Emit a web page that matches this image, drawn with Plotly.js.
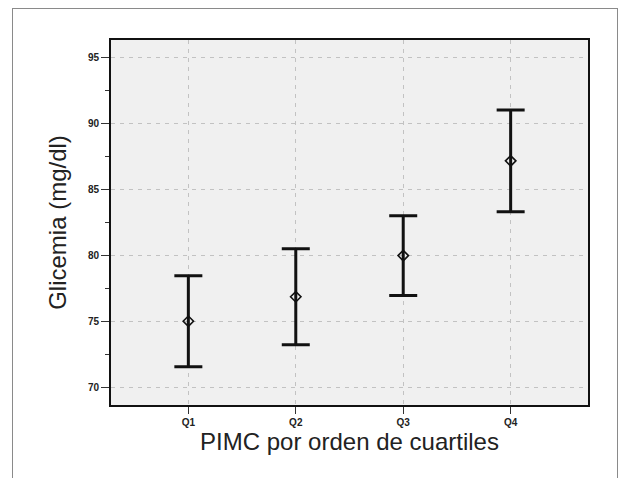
<!DOCTYPE html>
<html>
<head>
<meta charset="utf-8">
<script src="https://cdn.plot.ly/plotly-3.0.1.min.js"></script>
<style>
  html, body { margin: 0; padding: 0; background: #ffffff; }
  #frame { position: absolute; left: 12px; top: 8px; width: 606px; height: 480px; border: 1.5px solid #8a8a8a; box-sizing: border-box; }
  #chart { position: absolute; left: 0; top: 0; width: 621px; height: 478px; }
</style>
</head>
<body>
<div id="frame"></div>
<div id="chart"></div>
<script>
// Data
const categories = ["Q1", "Q2", "Q3", "Q4"];
const means = [75.05, 76.9, 80.02, 87.2];
const upper = [78.5, 80.55, 83.05, 91.05];
const lower = [71.6, 73.27, 76.99, 83.35];
const yTickVals = [70, 75, 80, 85, 90, 95];
const yMinorTickVals = [72.5, 77.5, 82.5, 87.5, 92.5];

const errPlus = means.map((m, i) => upper[i] - m);
const errMinus = means.map((m, i) => m - lower[i]);

const trace = {
  type: "scatter",
  mode: "markers",
  x: categories,
  y: means,
  marker: { symbol: "diamond-open", size: 8, color: "#111111", line: { width: 1.6, color: "#111111" } },
  error_y: {
    type: "data",
    symmetric: false,
    array: errPlus,
    arrayminus: errMinus,
    color: "#111111",
    thickness: 3,
    width: 14
  },
  hoverinfo: "skip",
  showlegend: false
};

const layout = {
  width: 621,
  height: 478,
  margin: { l: 111, r: 33, t: 40, b: 73 },
  paper_bgcolor: "rgba(0,0,0,0)",
  plot_bgcolor: "#f0f0f0",
  font: { family: "Liberation Sans, Arial, sans-serif", color: "#1a1a1a" },
  xaxis: {
    type: "category",
    range: [-0.72, 3.72],
    showline: true, mirror: true, linecolor: "#111", linewidth: 2,
    ticks: "outside", ticklen: 7, tickwidth: 1, tickcolor: "#333",
    showgrid: true, gridcolor: "#c2c2c2", griddash: "4px,5px", gridwidth: 1,
    tickfont: { family: "Liberation Sans, Arial, sans-serif", size: 10, weight: "bold", color: "#222" },
    title: { text: "PIMC por orden de cuartiles", font: { size: 24, color: "#222" }, standoff: 4 },
    automargin: true,
    zeroline: false
  },
  yaxis: {
    range: [68.7, 96.36],
    tickvals: yTickVals,
    showline: true, mirror: true, linecolor: "#111", linewidth: 2,
    ticks: "outside", ticklen: 8, tickwidth: 1, tickcolor: "#333",
    minor: { tickvals: yMinorTickVals, ticks: "outside", ticklen: 4, tickcolor: "#333", showgrid: false },
    showgrid: true, gridcolor: "#c2c2c2", griddash: "4px,5px", gridwidth: 1,
    tickfont: { family: "Liberation Sans, Arial, sans-serif", size: 10, weight: "bold", color: "#222" },
    title: { text: "Glicemia (mg/dl)", font: { size: 24, color: "#222" }, standoff: 14 },
    automargin: true,
    zeroline: false
  }
};

Plotly.newPlot("chart", [trace], layout, { displayModeBar: false, staticPlot: true });
</script>
</body>
</html>
